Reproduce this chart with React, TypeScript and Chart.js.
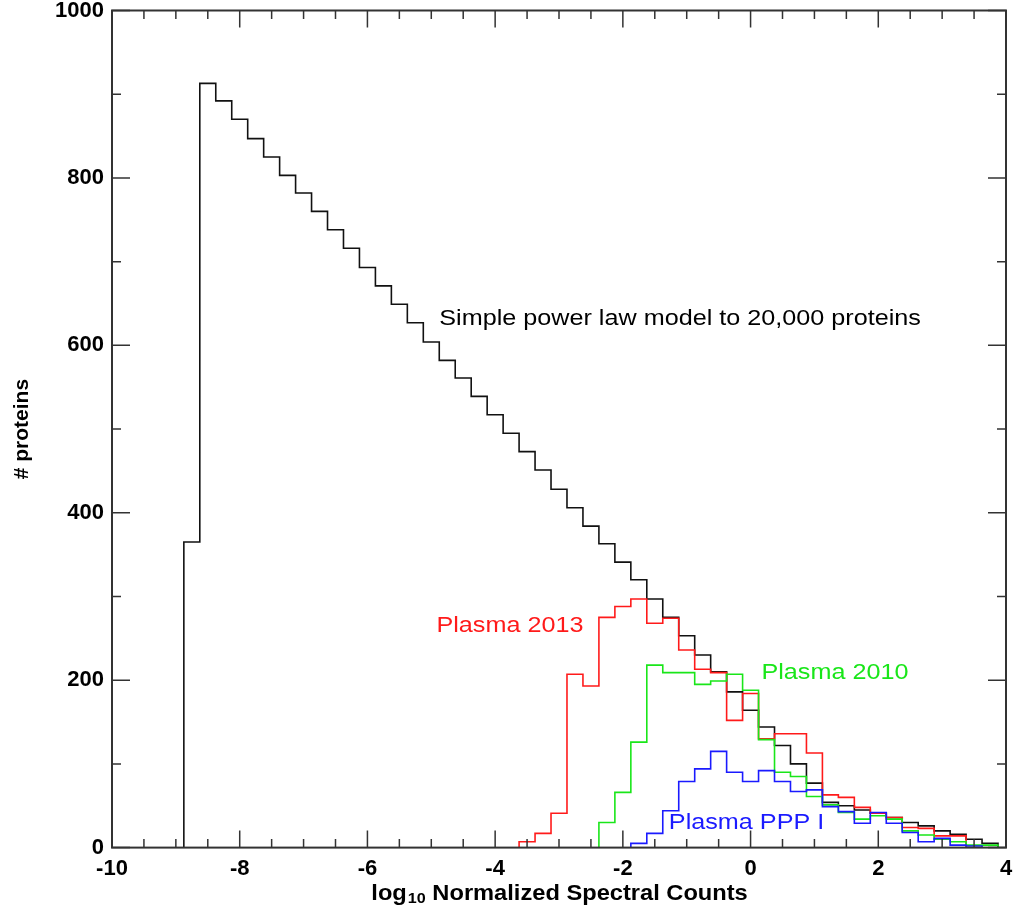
import React, { useEffect, useRef } from "react";
import { Chart, registerables } from "chart.js";

Chart.register(...registerables);

// ---------- data ----------
const BIN_WIDTH = 0.25;

// Simple power law model (black), first bin centre and counts
const modelStart = -8.75;
const modelCounts = [
  365, 913, 892, 870, 847, 825, 803, 782, 760, 738, 716, 693, 671, 649, 627,
  604, 582, 561, 539, 517, 495, 473, 451, 428, 406, 384, 363, 341, 320, 297,
  275, 253, 230, 210, 186, 164, 144, 122, 100, 77, 54, 50, 45, 41, 36, 30, 26,
  20, 16, 10, 5,
];

// Plasma 2013 (red)
const plasma2013Start = -3.5;
const plasma2013Counts = [
  7, 17, 41, 207, 193, 275, 288, 297, 268, 274, 236, 213, 209, 152, 184, 130,
  136, 136, 113, 63, 60, 48, 41, 36, 24, 23, 14, 14,
];

// Plasma 2010 (green)
const plasma2010Start = -2.25;
const plasma2010Counts = [
  30, 66, 126, 218, 209, 209, 195, 199, 207, 188, 129, 90, 85, 61, 51, 42, 34,
  38, 34, 20, 15, 10, 7, 3, 3,
];

// Plasma PPP I (blue)
const pppStart = -1.75;
const pppCounts = [
  5, 17, 44, 79, 94, 115, 90, 79, 92, 79, 67, 69, 49, 43, 29, 42, 29, 18, 7,
  11, 3, 2,
];

const xMin = -10;
const xMax = 4;
const xMajorStep = 2;
const xMinorStep = 0.5;
const yMin = 0;
const yMax = 1000;
const yMajorStep = 200;
const yMinorStep = 100;

const yTitle = "# proteins";
const xTitleMain = "log";
const xTitleSub = "10";
const xTitleRest = " Normalized Spectral Counts";

const annotationTexts = [
  "Simple power law model to 20,000 proteins",
  "Plasma 2013",
  "Plasma 2010",
  "Plasma PPP I",
];
const annotationColors = ["#000000", "#ff1a1a", "#19e619", "#1a1aff"];
// anchor (left, baseline) in data units
const annotationX = [-4.875, -4.92, 0.17, -1.28];
const annotationY = [624, 257, 201, 22];

// ---------- helpers ----------
function stepPoints(start: number, counts: number[]) {
  const pts: { x: number; y: number }[] = [];
  const firstEdge = start - BIN_WIDTH / 2;
  pts.push({ x: firstEdge, y: 0 });
  counts.forEach((c, i) => {
    const l = firstEdge + i * BIN_WIDTH;
    pts.push({ x: l, y: c });
    pts.push({ x: l + BIN_WIDTH, y: c });
  });
  pts.push({ x: firstEdge + counts.length * BIN_WIDTH, y: 0 });
  return pts;
}

const STRETCH = 1.145;
const TITLE_STRETCH = 1.075;
const FONT = "'Liberation Sans', Arial, Helvetica, sans-serif";
const AXIS_COLOR = "#333333";

const framePlugin = {
  id: "frameAndText",
  afterDraw(chart: any) {
    const { ctx, chartArea, scales } = chart;
    const xs = scales.x;
    const ys = scales.y;
    const { left, right, top, bottom } = chartArea;
    ctx.save();
    ctx.strokeStyle = AXIS_COLOR;
    ctx.lineWidth = 2;
    ctx.strokeRect(left, top, right - left, bottom - top);
    ctx.lineWidth = 1.5;
    ctx.beginPath();
    const nx = Math.round((xMax - xMin) / xMinorStep);
    for (let i = 0; i <= nx; i++) {
      const v = xMin + i * xMinorStep;
      const major = Math.abs(v / xMajorStep - Math.round(v / xMajorStep)) < 1e-9;
      const len = major ? 17 : 8.5;
      const px = xs.getPixelForValue(v);
      ctx.moveTo(px, bottom);
      ctx.lineTo(px, bottom - len);
      ctx.moveTo(px, top);
      ctx.lineTo(px, top + len);
    }
    const ny = Math.round((yMax - yMin) / yMinorStep);
    for (let i = 0; i <= ny; i++) {
      const v = yMin + i * yMinorStep;
      const major = Math.abs(v / yMajorStep - Math.round(v / yMajorStep)) < 1e-9;
      const len = major ? 18 : 9;
      const py = ys.getPixelForValue(v);
      ctx.moveTo(left, py);
      ctx.lineTo(left + len, py);
      ctx.moveTo(right, py);
      ctx.lineTo(right - len, py);
    }
    ctx.stroke();

    // annotations
    ctx.textBaseline = "alphabetic";
    ctx.textAlign = "left";
    ctx.font = `22px ${FONT}`;
    annotationTexts.forEach((t, i) => {
      const px = xs.getPixelForValue(annotationX[i]);
      const py = ys.getPixelForValue(annotationY[i]);
      ctx.save();
      ctx.translate(px, py);
      ctx.scale(STRETCH, 1);
      ctx.fillStyle = annotationColors[i];
      ctx.fillText(t, 0, 0);
      ctx.restore();
    });

    // x-axis title with subscript
    const mainFont = `bold 22px ${FONT}`;
    const subFont = `bold 15px ${FONT}`;
    ctx.font = mainFont;
    const w1 = ctx.measureText(xTitleMain).width;
    const w3 = ctx.measureText(xTitleRest).width;
    ctx.font = subFont;
    const w2 = ctx.measureText(xTitleSub).width;
    const total = (w1 + w2 + w3) * TITLE_STRETCH;
    const cx = (left + right) / 2;
    const baseY = chart.height - 7;
    ctx.save();
    ctx.translate(cx - total / 2, baseY);
    ctx.scale(TITLE_STRETCH, 1);
    ctx.fillStyle = "#000000";
    ctx.font = mainFont;
    ctx.fillText(xTitleMain, 0, 0);
    ctx.font = subFont;
    ctx.fillText(xTitleSub, w1 + 1, 3);
    ctx.font = mainFont;
    ctx.fillText(xTitleRest, w1 + w2 + 1, 0);
    ctx.restore();

    ctx.restore();
  },
};

export default function App() {
  const canvasRef = useRef<HTMLCanvasElement | null>(null);

  useEffect(() => {
    if (!canvasRef.current) return;
    const series = [
      { label: "Simple power law model", start: modelStart, counts: modelCounts, color: "#111111", order: 4 },
      { label: "Plasma 2013", start: plasma2013Start, counts: plasma2013Counts, color: "#ff1a1a", order: 3 },
      { label: "Plasma 2010", start: plasma2010Start, counts: plasma2010Counts, color: "#19e619", order: 2 },
      { label: "Plasma PPP I", start: pppStart, counts: pppCounts, color: "#1a1aff", order: 1 },
    ];
    const chart = new Chart(canvasRef.current, {
      type: "line",
      data: {
        datasets: series.map((s) => ({
          label: s.label,
          data: stepPoints(s.start, s.counts),
          borderColor: s.color,
          backgroundColor: s.color,
          borderWidth: 1.6,
          pointRadius: 0,
          tension: 0,
          fill: false,
          order: s.order,
        })),
      },
      options: {
        animation: false,
        responsive: false,
        devicePixelRatio: 1,
        layout: { padding: { left: 0, right: 7, top: 10.5, bottom: 0 } },
        plugins: {
          legend: { display: false },
          tooltip: { enabled: false },
        },
        scales: {
          x: {
            type: "linear",
            min: xMin,
            max: xMax,
            grid: { display: false, drawTicks: false },
            border: { display: false },
            ticks: {
              stepSize: xMajorStep,
              padding: 8,
              color: "#000000",
              font: { family: FONT, size: 22, weight: "bold" },
              maxRotation: 0,
              callback: (v: any) => String(v),
            },
            afterFit(scale: any) {
              scale.height = 59.4;
              scale.paddingLeft = 0;
              scale.paddingRight = 0;
            },
          },
          y: {
            type: "linear",
            min: yMin,
            max: yMax,
            grid: { display: false, drawTicks: false },
            border: { display: false },
            ticks: {
              stepSize: yMajorStep,
              padding: 8,
              color: "#000000",
              font: { family: FONT, size: 22, weight: "bold" },
              callback: (v: any) => String(v),
            },
            title: {
              display: true,
              text: yTitle,
              color: "#000000",
              font: { family: FONT, size: 21, weight: "bold" },
              padding: { top: 9.5, bottom: 0 },
            },
            afterFit(scale: any) {
              scale.width = 112;
              scale.paddingTop = 0;
              scale.paddingBottom = 0;
            },
          },
        },
      },
      plugins: [framePlugin],
    } as any);
    return () => chart.destroy();
  }, []);

  return (
    <div style={{ position: "fixed", left: 0, top: 0, width: 1013, height: 907, background: "#ffffff" }}>
      <canvas ref={canvasRef} width={1013} height={907} />
    </div>
  );
}
